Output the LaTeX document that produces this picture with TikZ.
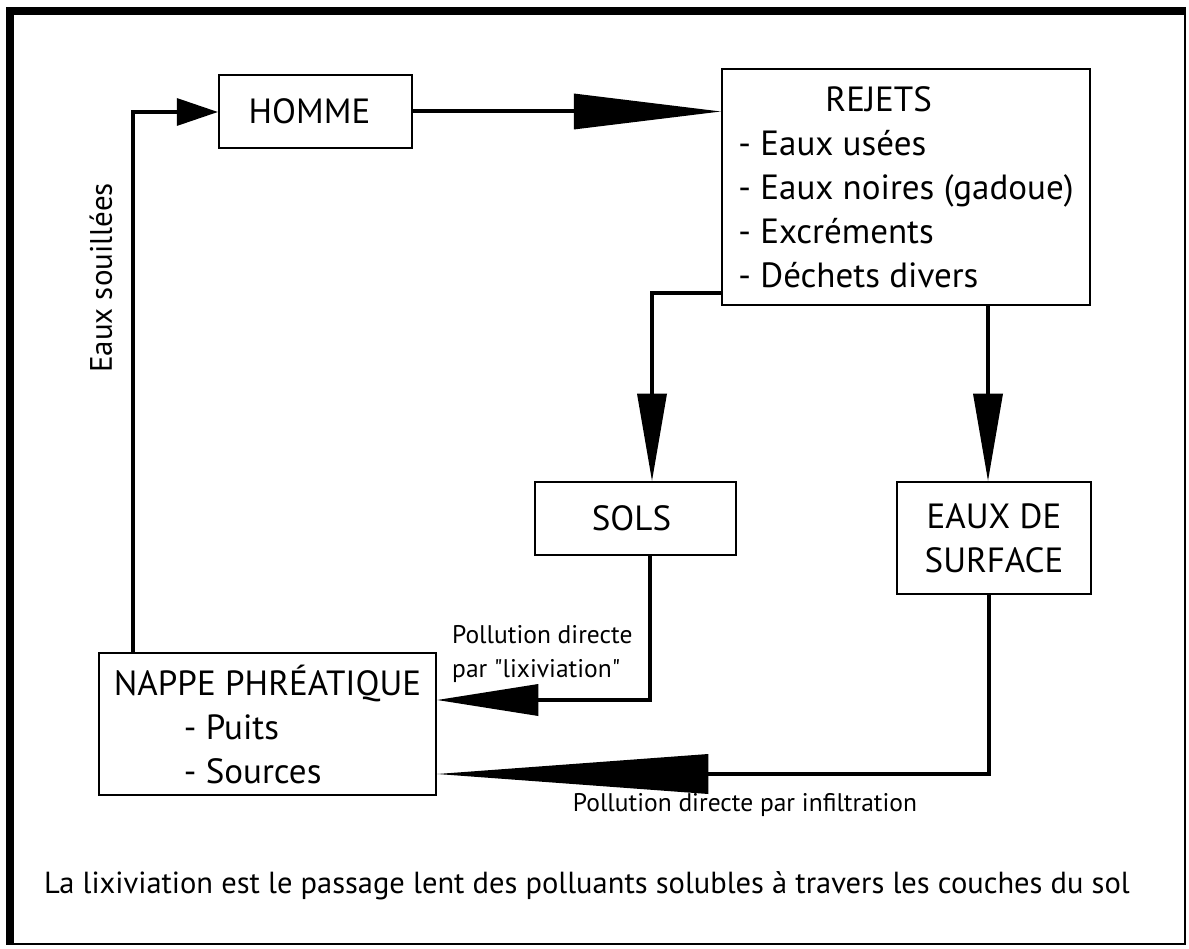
\documentclass[tikz,border=0pt]{standalone}
\usepackage{fontspec}
\setmainfont{PT Sans}[Ligatures=TeXOff]
\usetikzlibrary{arrows.meta,positioning}

\newcommand{\boxfont}{\fontsize{35}{44}\selectfont}
\newcommand{\notefont}{\fontsize{25.5}{34}\selectfont}
\newcommand{\captfont}{\fontsize{30.5}{36}\selectfont}

\tikzset{
  bloc/.style={draw, line width=2.5pt, inner sep=0pt, font=\boxfont},
  flux/.style={line width=4pt},
  note/.style={font=\notefont, inner sep=0pt},
}

\begin{document}
\begin{tikzpicture}[x=1pt, y=-1pt]
  \useasboundingbox (0,0) rectangle (1189,949);
  % cadre
  \fill (6,7) rectangle (1186,15);
  \fill (6,7) rectangle (14,945);
  \draw[line width=2pt] (1185,15) -- (1185,944) -- (14,944);

  % boites
  \node[bloc, minimum width=193pt, minimum height=73pt] (homme) at (315.5,111.5) {HOMME\hspace*{12pt}};
  \node[bloc, minimum width=368pt, minimum height=236pt, align=left] (rejets) at (906,187)
    {\hspace*{87pt}REJETS\\- Eaux usées\\- Eaux noires (gadoue)\\- Excréments\\- Déchets divers};
  \node[bloc, minimum width=201pt, minimum height=73pt] (sols) at (635.5,518.5) {SOLS\hspace*{8pt}};
  \node[bloc, minimum width=194pt, minimum height=112pt, align=center] (surface) at (994,538)
    {EAUX DE\\SURFACE};
  \node[bloc, minimum width=337pt, minimum height=142pt, align=left] (nappe) at (267.5,724)
    {NAPPE PHRÉATIQUE\\\hspace*{70pt}- Puits\\\hspace*{70pt}- Sources};

  % coudes
  \coordinate (gauche) at (133,112);
  \coordinate (coude1) at (652,293);
  \coordinate (droite) at (988,400);
  \coordinate (coude2) at (650,700);
  \coordinate (coude3) at (989,774);

  % fleches
  \draw[flux, -{Triangle[length=41pt 0, width=28pt 0, line width=0pt]}]
    (nappe.north -| gauche) -- (gauche) -- (gauche -| homme.west);
  \draw[flux, -{Triangle[length=147pt 0, width=36pt 0, line width=0pt]}]
    (homme.east) -- (homme.east -| rejets.west);
  \draw[flux, -{Triangle[length=87pt 0, width=30pt 0, line width=0pt]}]
    (coude1 -| rejets.west) -- (coude1) -- (coude1 |- sols.north);
  \draw[flux, -{Triangle[length=87pt 0, width=30pt 0, line width=0pt]}]
    (droite |- rejets.south) -- (droite |- surface.north);
  \draw[flux, -{Triangle[length=101pt 0, width=32pt 0, line width=0pt]}]
    (coude2 |- sols.south) -- (coude2) -- (coude2 -| nappe.east);
  \draw[flux, -{Triangle[length=271pt 0, width=40pt 0, line width=0pt]}]
    (coude3 |- surface.south) -- (coude3) -- (coude3 -| nappe.east);

  % textes
  \node[font=\fontsize{31}{36}\selectfont, rotate=90] (souillees) at (101,278) {Eaux souillées};
  \node[note, align=left, anchor=north west] (lixi) at (452,625)
    {Pollution directe\\par "lixiviation"};
  \node[note] (infil) at (745,805) {Pollution directe par infiltration};
  \node[font=\captfont, inner sep=0pt, anchor=base] (legende) at (587,893)
    {La lixiviation est le passage lent des polluants solubles à travers les couches du sol};
\end{tikzpicture}
\end{document}
